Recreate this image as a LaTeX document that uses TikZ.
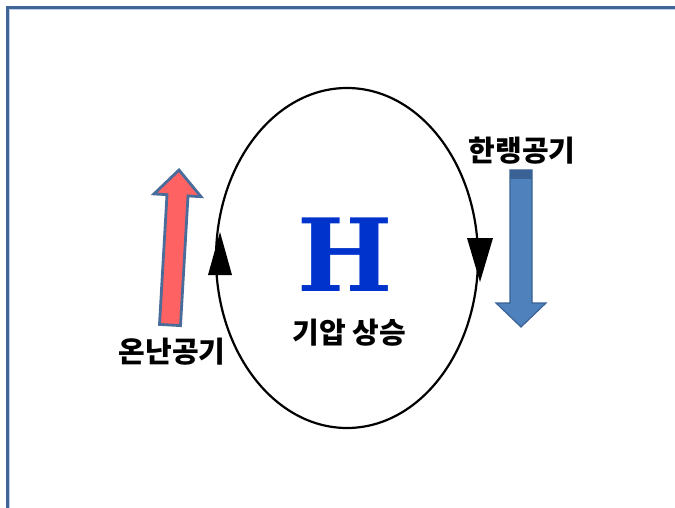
\documentclass[tikz,border=0pt]{standalone}
\usepackage{fontspec}
\usetikzlibrary{shapes.geometric}
\newfontfamily\kr{Noto Sans CJK KR}
\newfontfamily\hfont{DejaVu Serif}
\definecolor{framedark}{RGB}{65,101,150}
\definecolor{framelight}{RGB}{190,208,232}
\definecolor{warmfill}{RGB}{255,98,98}
\definecolor{arrowedge}{RGB}{74,108,155}
\definecolor{coolfill}{RGB}{79,129,189}
\definecolor{cooldark}{RGB}{58,98,148}
\definecolor{hblue}{RGB}{0,51,204}
\begin{document}
\begin{tikzpicture}[x=1pt,y=-1pt,
  lbl/.style={font=\kr\bfseries\fontsize{29}{31}\selectfont, inner sep=0pt},
  headtip/.style={fill=black}]
\useasboundingbox (0,0) rectangle (675,508);
\fill[white] (0,0) rectangle (675,508);
% frame
\draw[framelight, line width=1] (9.8,508) -- (9.8,9.8) -- (675,9.8);
\draw[framedark, line width=2.5] (7.5,508) -- (7.5,7.5) -- (675,7.5);
% circulation loop
\node[draw, ellipse, line width=2.2, minimum width=262, minimum height=340, inner sep=0pt] (loop) at (347,258) {};
\fill[headtip] (220,232) -- (208,275) -- (232,275) -- cycle;
\fill[headtip] (467,238) -- (493,238) -- (480,282) -- cycle;
% warm air arrow
\filldraw[fill=warmfill, draw=arrowedge, line width=2.8, line join=miter]
  (159.5,324.4) -- (167.0,194.7) -- (154.0,193.9) -- (179,170) -- (201.0,196.7) -- (188.0,195.9) -- (180.5,325.6) -- cycle;
% cold air arrow
\filldraw[fill=coolfill, draw=cooldark, line width=1.2]
  (510,170) -- (510,303) -- (496,303) -- (521,327) -- (546,303) -- (532,303) -- (532,170) -- cycle;
\fill[cooldark] (510,170) rectangle (532,179);
% labels
\node[lbl] (cold) at (522,151) {한랭공기};
\node[lbl] (warm) at (172,352) {온난공기};
\node[lbl] (rise) at (349,333) {기압 상승};
\node[font=\hfont\bfseries\fontsize{101}{101}\selectfont, text=hblue, inner sep=0pt] (H) at (345.5,255) {H};
\end{tikzpicture}
\end{document}
